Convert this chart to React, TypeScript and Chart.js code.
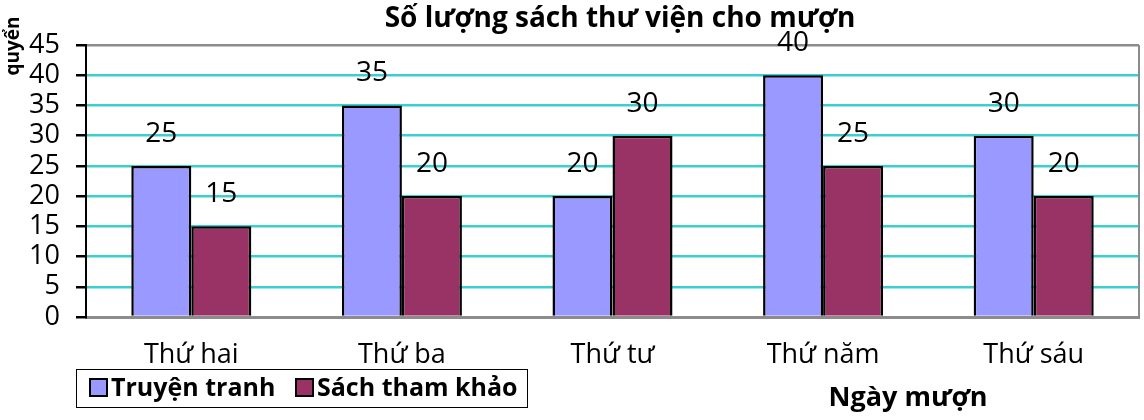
import React, { useEffect, useRef } from "react";
import { Chart, registerables } from "chart.js";

Chart.register(...registerables);

const categories = ["Thứ hai", "Thứ ba", "Thứ tư", "Thứ năm", "Thứ sáu"];
const truyenTranh = [25, 35, 20, 40, 30];
const sachThamKhao = [15, 20, 30, 25, 20];
const seriesNames = ["Truyện tranh", "Sách tham khảo"];
const titleText = "Số lượng sách thư viện cho mượn";
const yTitle = "quyển";
const xTitle = "Ngày mượn";

const FONT = "'Open Sans', 'Noto Sans', sans-serif";
const C1 = "#9999FF";
const C2 = "#993366";

const decor = {
  id: "decor",
  afterDatasetsDraw(chart: any) {
    const ctx = chart.ctx;
    const area = chart.chartArea;
    ctx.save();
    // right border
    ctx.strokeStyle = "#8c8c8c";
    ctx.lineWidth = 2;
    ctx.beginPath();
    ctx.moveTo(area.right, area.top);
    ctx.lineTo(area.right, area.bottom);
    ctx.stroke();
    // data labels
    ctx.fillStyle = "#000";
    ctx.font = `28px ${FONT}`;
    ctx.textAlign = "center";
    ctx.textBaseline = "middle";
    chart.data.datasets.forEach((ds: any, di: number) => {
      const meta = chart.getDatasetMeta(di);
      meta.data.forEach((el: any, i: number) => {
        ctx.fillText(String(ds.data[i]), el.x, el.y - 32);
      });
    });
    // title
    ctx.font = `bold 28px ${FONT}`;
    ctx.fillText(titleText, 620, 19);
    // y title rotated
    ctx.save();
    ctx.translate(14, 46);
    ctx.rotate(-Math.PI / 2);
    ctx.font = `bold 19px ${FONT}`;
    ctx.textAlign = "center";
    ctx.fillText(yTitle, 0, 0);
    ctx.restore();
    // x title
    ctx.font = `bold 27px ${FONT}`;
    ctx.fillText(xTitle, 908, 398);
    // legend
    ctx.strokeStyle = "#000";
    ctx.lineWidth = 1;
    ctx.strokeRect(76.5, 369.5, 451, 38);
    const items = [
      { x: 90, color: C1, label: seriesNames[0] },
      { x: 296, color: C2, label: seriesNames[1] },
    ];
    ctx.font = `bold 25px ${FONT}`;
    ctx.textAlign = "left";
    items.forEach((it) => {
      ctx.fillStyle = it.color;
      ctx.fillRect(it.x, 379, 17, 17);
      ctx.lineWidth = 2;
      ctx.strokeRect(it.x, 379, 17, 17);
      ctx.fillStyle = "#000";
      ctx.fillText(it.label, it.x + 21, 389);
    });
    ctx.restore();
  },
};

export default function App() {
  const ref = useRef<HTMLCanvasElement>(null);
  useEffect(() => {
    if (!ref.current) return;
    const chart = new Chart(ref.current, {
      type: "bar",
      data: {
        labels: categories,
        datasets: [
          {
            label: seriesNames[0],
            data: truyenTranh,
            backgroundColor: C1,
            borderColor: "#000",
            borderWidth: 2.5,
            borderSkipped: "bottom",
          },
          {
            label: seriesNames[1],
            data: sachThamKhao,
            backgroundColor: C2,
            borderColor: "#000",
            borderWidth: 2.5,
            borderSkipped: "bottom",
          },
        ],
      },
      options: {
        responsive: false,
        animation: false,
        layout: { padding: { left: 0, top: 45, right: 5, bottom: 0 } },
        datasets: { bar: { barPercentage: 1, categoryPercentage: 0.57 } },
        plugins: {
          legend: { display: false },
          title: { display: false },
          tooltip: { enabled: false },
        },
        scales: {
          x: {
            afterFit: (s: any) => {
              s.height = 103;
            },
            grid: { display: false, drawTicks: false },
            border: { display: true, color: "#8c8c8c", width: 3 },
            ticks: { color: "#000", font: { family: FONT, size: 27 }, padding: 22 },
          },
          y: {
            min: 0,
            max: 45,
            afterFit: (s: any) => {
              s.width = 86;
            },
            ticks: {
              stepSize: 5,
              autoSkip: false,
              color: "#000",
              font: { family: FONT, size: 27 },
              padding: 16,
            },
            grid: {
              color: (c: any) =>
                c.tick && c.tick.value === 45 ? "#8c8c8c" : c.tick && c.tick.value === 0 ? "rgba(0,0,0,0)" : "#3CCFCF",
              lineWidth: 2.5,
              tickColor: "#000",
              tickLength: 10,
            },
            border: { display: true, color: "#000", width: 2 },
          },
        },
      },
      plugins: [decor],
    });
    return () => chart.destroy();
  }, []);
  return (
    <div style={{ position: "fixed", left: 0, top: 0, width: 1144, height: 420, background: "#fff" }}>
      <canvas ref={ref} width={1144} height={420} />
    </div>
  );
}
